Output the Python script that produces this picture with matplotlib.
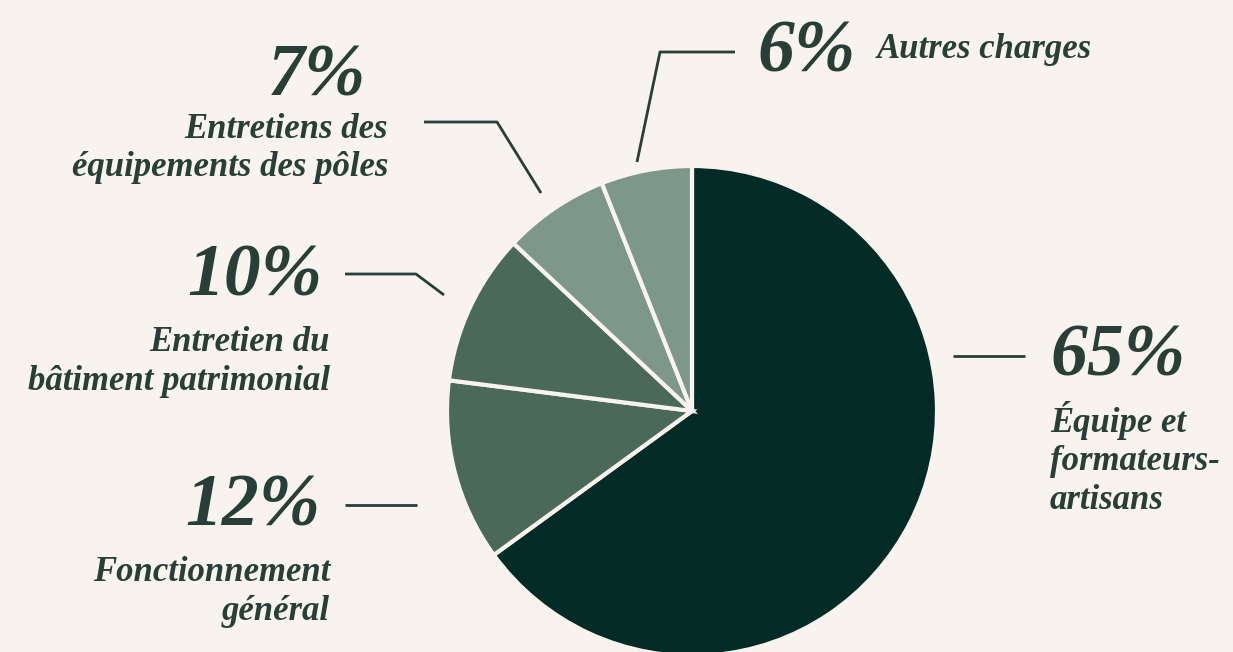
import matplotlib.pyplot as plt

# données
labels = ['Équipe et\nformateurs-\nartisans', 'Fonctionnement\ngénéral',
          'Entretien du\nbâtiment patrimonial', 'Entretiens des\néquipements des pôles',
          'Autres charges']
pcts = [65, 12, 10, 7, 6]
colors = ['#022b25', '#4a6959', '#4a6959', '#7d988a', '#7d988a']

bg = '#f8f3ef'
txt = '#283f37'
W, H = 1233, 652

fig = plt.figure(figsize=(W / 100, H / 100), dpi=100, facecolor=bg)
ax = fig.add_axes([0, 0, 1, 1])
ax.set_xlim(0, W)
ax.set_ylim(0, H)
ax.set_aspect('equal')
ax.axis('off')

def Y(py):
    return H - py

ax.pie(pcts, colors=colors, startangle=90, counterclock=False,
       radius=245, center=(692, Y(411)),
       wedgeprops=dict(edgecolor=bg, linewidth=3))
ax.set_xlim(0, W)
ax.set_ylim(0, H)

font = dict(family='Liberation Serif', weight='bold', style='italic', color=txt)

# lignes de rappel (pixels)
leaders = [
    [(953, 356), (1025, 356)],
    [(345, 505), (417, 505)],
    [(444, 295), (416, 274), (345, 274)],
    [(541, 193), (497, 122), (424, 122)],
    [(637, 162), (660, 52), (735, 52)],
]
for pts in leaders:
    ax.plot([p[0] for p in pts], [Y(p[1]) for p in pts], color=txt, lw=2,
            solid_capstyle='butt')

big = 53
small = 25
ls = 1.22

# 65%
ax.text(1050, Y(375), f'{pcts[0]}%', fontsize=big, ha='left', va='baseline', **font)
ax.text(1050, Y(401), labels[0], fontsize=small, ha='left', va='top',
        linespacing=ls, **font)
# 12%
ax.text(320, Y(526), f'{pcts[1]}%', fontsize=big, ha='right', va='baseline', **font)
ax.text(330, Y(556), labels[1], fontsize=small, ha='right', va='top',
        linespacing=ls, **font)
# 10%
ax.text(322, Y(296), f'{pcts[2]}%', fontsize=big, ha='right', va='baseline', **font)
ax.text(330, Y(326), labels[2], fontsize=small, ha='right', va='top',
        linespacing=ls, **font)
# 7%
ax.text(366, Y(96), f'{pcts[3]}%', fontsize=big, ha='right', va='baseline', **font)
ax.text(388, Y(113), labels[3], fontsize=small, ha='right', va='top',
        linespacing=ls, **font)
# 6%
ax.text(757, Y(72), f'{pcts[4]}%', fontsize=big, ha='left', va='baseline', **font)
ax.text(877, Y(58), labels[4], fontsize=small, ha='left', va='baseline', **font)

fig.savefig('out.png', dpi=100, facecolor=bg)
